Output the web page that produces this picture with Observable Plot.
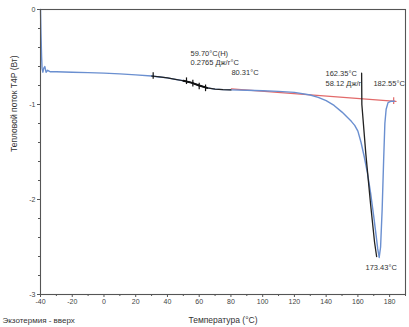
<!DOCTYPE html>
<html><head><meta charset="utf-8">
<script src="https://cdn.jsdelivr.net/npm/d3@7"></script>
<script src="https://cdn.jsdelivr.net/npm/@observablehq/plot@0.6"></script>
<style>body{margin:0;background:#fff;font-family:"Liberation Sans",Arial,sans-serif}</style>
</head><body><div id="chart"></div>
<script>
// DSC curve (temperature °C, heat flow)
const tempC = [-40, -39.7, -39.3, -39, -38.5, -38, -37.3, -36.5, -35.5, -34, -30, -20, -10, 0, 10, 20, 30, 35, 40, 45, 50, 55, 60, 65, 70, 75, 80, 90, 100, 110, 120, 130, 135, 140, 145, 150, 153, 156, 158, 160, 162, 164, 166, 168, 170, 171.5, 172.5, 173.43, 174.3, 175.3, 176.2, 177, 177.8, 179, 181, 183];
const heatFlow = [0, -0.25, -0.5, -0.62, -0.66, -0.62, -0.6, -0.66, -0.64, -0.655, -0.655, -0.66, -0.665, -0.67, -0.678, -0.688, -0.70, -0.71, -0.72, -0.735, -0.75, -0.77, -0.80, -0.825, -0.838, -0.843, -0.846, -0.85, -0.855, -0.862, -0.872, -0.9, -0.925, -0.96, -1.01, -1.08, -1.13, -1.18, -1.22, -1.28, -1.4, -1.55, -1.72, -1.93, -2.18, -2.38, -2.52, -2.61, -2.5, -2.1, -1.6, -1.2, -1.05, -0.98, -0.965, -0.965];

// glass transition step marks
const stepT = [31, 52, 56, 60, 64];
const stepH = [-0.70, -0.755, -0.78, -0.81, -0.83];

// integration baseline
const baseT = [80.31, 184];
const baseH = [-0.835, -0.967];

// onset line of the melting peak
const onsetT = [162.35, 162.5, 165, 168, 170.5, 171.8];
const onsetH = [-0.67, -1.0, -1.52, -2.05, -2.45, -2.6];

// annotations
const noteText = ["59.70°C(H)", "0.2765 Дж/г°C", "80.31°C", "162.35°C", "58.12 Дж/г", "182.55°C", "173.43°C"];
const noteT = [54.5, 54.5, 80.3, 139.6, 139.6, 169.8, 164.8];
const noteH = [-0.463, -0.558, -0.663, -0.674, -0.78, -0.78, -2.716];

const xMajor = [-40, -20, 0, 20, 40, 60, 80, 100, 120, 140, 160, 180];
const xMinor = [-30, -10, 10, 30, 50, 70, 90, 110, 130, 150, 170, 190];
const yMajor = [0, -1, -2, -3];
const yMinor = [-0.2, -0.4, -0.6, -0.8, -1.2, -1.4, -1.6, -1.8, -2.2, -2.4, -2.6, -2.8];

const curve = tempC.map((t, i) => ({t, h: heatFlow[i]}));
const steps = stepT.map((t, i) => ({t, h: stepH[i]}));
const base = baseT.map((t, i) => ({t, h: baseH[i]}));
const onset = onsetT.map((t, i) => ({t, h: onsetH[i]}));
const notes = noteText.map((s, i) => ({s, t: noteT[i], h: noteH[i]}));

const chart = Plot.plot({
  width: 409, height: 327,
  marginLeft: 40, marginRight: 4, marginTop: 9, marginBottom: 33,
  style: {fontFamily: "Liberation Sans, Arial, sans-serif", fontSize: "7px", color: "#444", background: "#fff", overflow: "visible"},
  x: {domain: [-40, 190]},
  y: {domain: [-3, 0]},
  marks: [
    Plot.axisX({ticks: xMajor, tickSize: 3, tickPadding: 2, label: null, tickFormat: d => String(d), stroke: "#555"}),
    Plot.axisX({ticks: xMinor, tickSize: 2, tickFormat: () => "", label: null, stroke: "#555"}),
    Plot.axisY({ticks: yMajor, tickSize: 3, tickPadding: 2, label: null, tickFormat: d => String(d), stroke: "#555"}),
    Plot.axisY({ticks: yMinor, tickSize: 2, tickFormat: () => "", label: null, stroke: "#555"}),
    Plot.line(base, {x: "t", y: "h", stroke: "#e26a6a", strokeWidth: 1.3}),
    Plot.ruleX([182.55], {x: d => d, y1: -0.93, y2: -1.0, stroke: "#e26a6a", strokeWidth: 1.2}),
    Plot.line(curve, {x: "t", y: "h", stroke: "#6a8fd0", strokeWidth: 1.4}),
    Plot.line(curve.filter(d => d.t >= 30 && d.t <= 80), {x: "t", y: "h", stroke: "#222", strokeWidth: 1.2}),
    Plot.line(curve.filter(d => d.t >= 50 && d.t <= 65), {x: "t", y: "h", stroke: "#111", strokeWidth: 2}),
    Plot.ruleX(steps, {x: "t", y1: d => d.h + 0.035, y2: d => d.h - 0.035, stroke: "#111", strokeWidth: 1.2}),
    Plot.line(onset, {x: "t", y: "h", stroke: "#222", strokeWidth: 1.3}),
    Plot.text(notes, {x: "t", y: "h", text: "s", textAnchor: "start", fontSize: 7.5, fill: "#333"}),
    Plot.frame({stroke: "#555", strokeWidth: 1.1}),
    Plot.text(["Температура (°C)"], {frameAnchor: "bottom", dy: 28, fontSize: 8.5, fill: "#333"}),
    Plot.text(["Экзотермия - вверх"], {frameAnchor: "bottom-left", dx: -38, dy: 28, textAnchor: "start", fontSize: 8, fill: "#333"}),
    Plot.text(["Тепловой поток T4P (Вт)"], {frameAnchor: "left", dx: -26, rotate: -90, fontSize: 8.5, fill: "#333"})
  ]
});
document.getElementById("chart").appendChild(chart);
</script>
</body></html>
